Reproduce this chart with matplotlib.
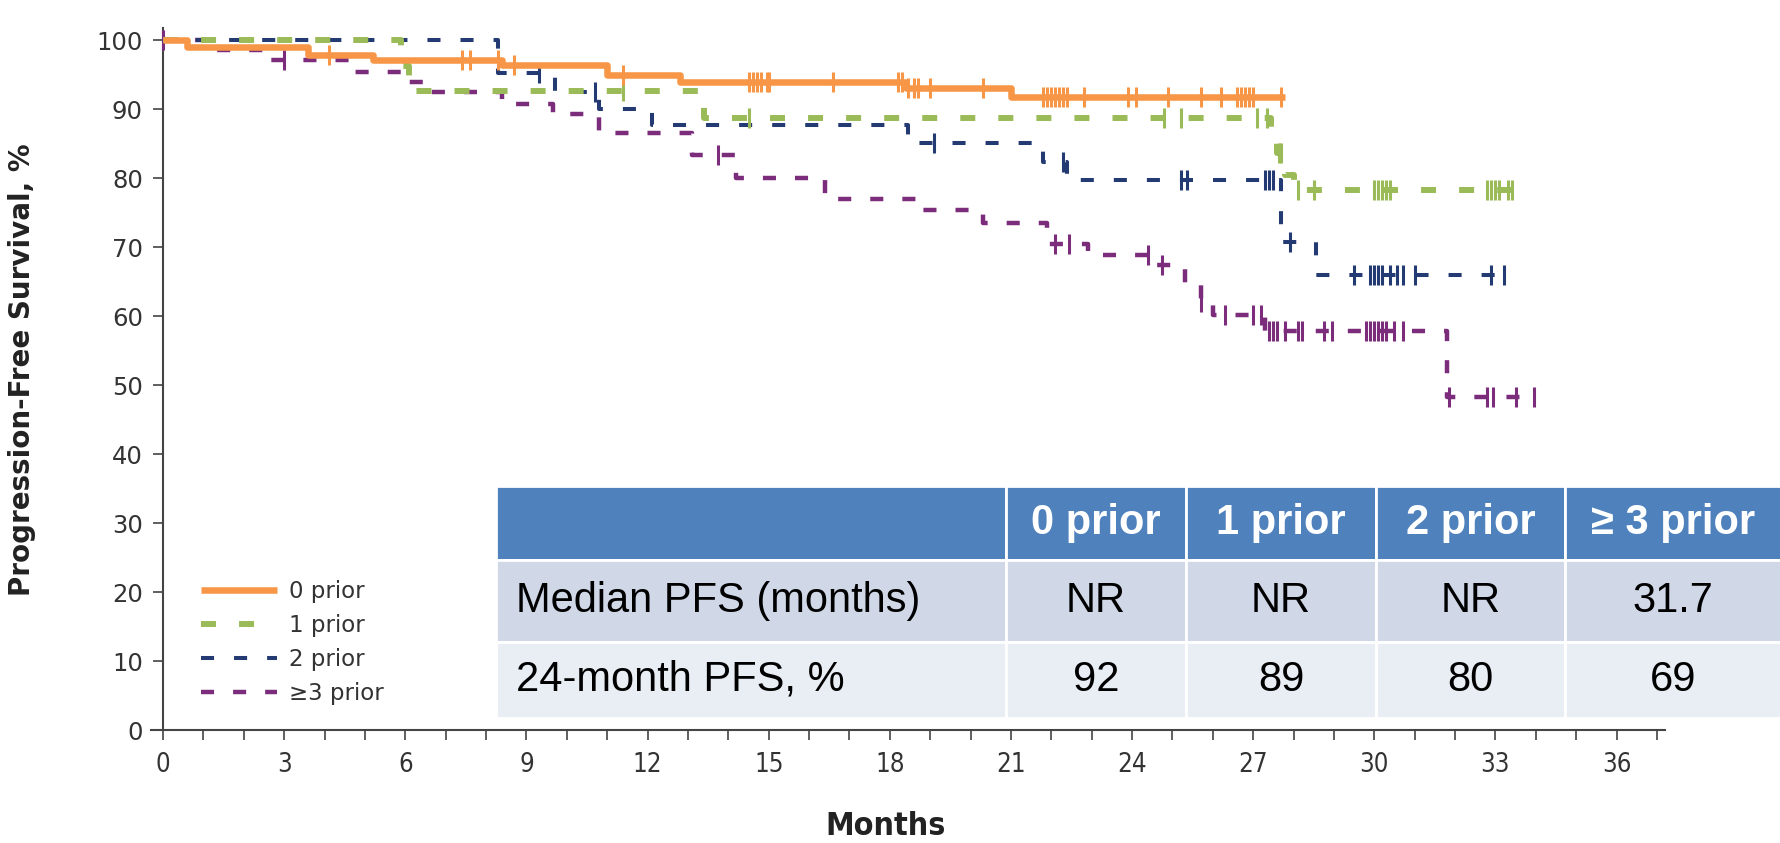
import numpy as np
import matplotlib
matplotlib.use('Agg')
import matplotlib.pyplot as plt

plt.rcParams['lines.scale_dashes'] = False

# Kaplan-Meier steps (months, % PFS)
months_0 = [0, 0.6, 3.6, 5.2, 8.4, 11.0, 12.8, 18.4, 21.0, 27.8]
pfs_0 = [100, 99.0, 97.8, 97.1, 96.4, 94.9, 93.9, 93.0, 91.7, 91.7]
cens_0 = [4.1, 7.4, 7.6, 8.3, 8.7, 11.4, 14.5, 14.6, 14.7, 14.8, 14.95, 15.0, 16.6,
          18.2, 18.3, 18.45, 18.6, 18.7, 19.0, 20.3, 21.8, 21.9, 22.0, 22.1, 22.2,
          22.3, 22.4, 22.8, 23.9, 24.1, 24.9, 25.7, 26.2, 26.6, 26.7, 26.8, 26.9,
          27.0, 27.7]

months_1 = [0, 5.9, 6.1, 13.4, 27.45, 27.6, 27.8, 28.0, 33.4]
pfs_1 = [100, 96.3, 92.6, 88.7, 86.2, 83.6, 80.4, 78.3, 78.3]
cens_1 = [11.4, 14.5, 24.8, 25.2, 27.1, 27.35, 27.65, 27.7, 28.1, 28.5, 30.0, 30.1,
          30.2, 30.3, 30.4, 32.8, 32.9, 33.0, 33.1, 33.3, 33.4]

months_2 = [0, 8.3, 9.7, 10.8, 12.1, 18.45, 21.8, 22.4, 27.7, 28.55, 33.2]
pfs_2 = [100, 95.2, 92.5, 90.0, 87.7, 85.1, 82.3, 79.7, 70.8, 65.9, 65.9]
cens_2 = [9.3, 10.7, 19.1, 22.3, 25.2, 25.35, 27.3, 27.4, 27.5, 27.9, 29.5, 29.9,
          30.0, 30.1, 30.2, 30.4, 30.55, 30.7, 31.0, 32.9, 33.2]

months_3 = [0, 1.2, 2.6, 4.6, 5.9, 6.6, 8.4, 9.65, 10.8, 13.1, 14.2, 16.4, 18.7,
            20.3, 21.9, 22.9, 24.5, 25.3, 25.7, 26.0, 27.3, 31.8, 34.0]
pfs_3 = [100, 98.6, 97.1, 95.4, 93.9, 92.5, 90.7, 89.3, 86.5, 83.3, 80.0, 77.0,
         75.4, 73.5, 70.5, 68.8, 67.4, 64.5, 62.0, 60.2, 57.9, 48.3, 48.3]
cens_3 = [0, 3.0, 13.75, 22.1, 22.45, 24.4, 24.75, 25.7, 26.3, 27.0, 27.2, 27.4,
          27.5, 27.6, 27.8, 28.1, 28.2, 28.75, 28.95, 29.8, 29.9, 30.0, 30.1, 30.2,
          30.3, 30.5, 30.7, 31.85, 32.8, 32.95, 33.5, 33.95]

groups = ['0 prior', '1 prior', '2 prior', '\u22653 prior']

# summary table
table_header = ['', '0 prior', '1 prior', '2 prior', '\u2265 3 prior']
row_labels = ['Median PFS (months)', '24-month PFS, %']
median_pfs = ['NR', 'NR', 'NR', '31.7']
pfs_24 = ['92', '89', '80', '69']

colors = ['#F79646', '#9BBB59', '#243A73', '#7B2C7B']
widths = [4.7, 4.3, 2.9, 3.2]
dashes = [None, (10.8, 16.6), (9.4, 14.4), (9.4, 13.7)]

fig = plt.figure(figsize=(17.81, 8.43), dpi=100)
ax = fig.add_axes([151 / 1781, 0.134, 1514 / 1781, 0.8324])

series = [(months_0, pfs_0, cens_0), (months_1, pfs_1, cens_1),
          (months_2, pfs_2, cens_2), (months_3, pfs_3, cens_3)]
handles = []
for i, (t, s, c) in enumerate(series):
    line, = ax.step(t, s, where='post', color=colors[i], lw=widths[i],
                    solid_capstyle='butt', zorder=3 + (3 - i))
    if dashes[i] is not None:
        line.set_dashes(dashes[i])
    handles.append(line)
    t_arr = np.array(t)
    s_arr = np.array(s)
    idx = np.searchsorted(t_arr, c, side='right') - 1
    ax.plot(c, s_arr[idx], ls='none', marker='|', ms=14, mew=2.2,
            color=colors[i], zorder=3 + (3 - i))

ax.set_xlim(-0.3, 37.2)
ax.set_ylim(0, 101.7)
ax.spines['top'].set_visible(False)
ax.spines['right'].set_visible(False)
ax.spines['left'].set_position(('data', 0))
for sp in ['left', 'bottom']:
    ax.spines[sp].set_color('#444444')
    ax.spines[sp].set_linewidth(1.5)

ax.set_xticks(np.arange(0, 37, 3))
ax.set_xticks(np.arange(0, 38, 1), minor=True)
ax.set_yticks(np.arange(0, 101, 10))
ax.tick_params(axis='both', which='both', direction='out', length=7.5, width=1.2,
               color='#444444')
ax.tick_params(axis='x', pad=8, labelsize=18.5, labelcolor='#333333')
ax.tick_params(axis='y', pad=7, labelsize=17.5, labelcolor='#333333')
for lab in ax.get_xticklabels():
    lab.set_family('DejaVu Sans')
    lab.set_stretch('condensed')
for lab in ax.get_yticklabels():
    lab.set_family('DejaVu Sans')

ax.set_ylabel('Progression-Free Survival, %', fontsize=20, fontweight='bold',
              family='DejaVu Sans', color='#222222', va='center')
ax.yaxis.set_label_coords(-0.085, 0.513)
ax.set_xlabel('Months', fontsize=23, fontweight='bold', family='DejaVu Sans',
              fontstretch='condensed', color='#222222', va='center')
ax.xaxis.set_label_coords(0.4853, -0.138)

leg = ax.legend(handles, groups, loc='upper left', bbox_to_anchor=(192 / 1781, 1 - 571 / 843),
                bbox_transform=fig.transFigure, frameon=False, borderaxespad=0,
                handlelength=3.3, handletextpad=0.55, labelspacing=0.48,
                prop={'family': ['DejaVu Sans'], 'size': 16.5})
for txt in leg.get_texts():
    txt.set_color('#333333')

# table
tax = fig.add_axes([496 / 1781, 125 / 843, 1285 / 1781, 232 / 843])
tax.axis('off')
cell_text = [[row_labels[0]] + median_pfs, [row_labels[1]] + pfs_24]
tbl = tax.table(cellText=cell_text, colLabels=table_header, cellLoc='center',
                colWidths=[510, 180, 190, 189, 216], bbox=[0, 0, 1, 1])
tbl.auto_set_font_size(False)
row_h = [74, 82, 76]
fills = ['#4F81BD', '#D0D8E8', '#E9EDF4']
for (r, c), cell in tbl.get_celld().items():
    cell.set_height(row_h[r])
    cell.set_facecolor(fills[r])
    cell.set_edgecolor('white')
    cell.set_linewidth(2)
    txt = cell.get_text()
    txt.set_fontsize(30)
    txt.set_family('Liberation Sans')
    if r == 0:
        txt.set_color('white')
        txt.set_fontweight('bold')
    else:
        txt.set_color('black')
    if c == 0 and r > 0:
        txt.set_ha('left')
        cell.PAD = 0.04

fig.savefig('out.png', dpi=100)
